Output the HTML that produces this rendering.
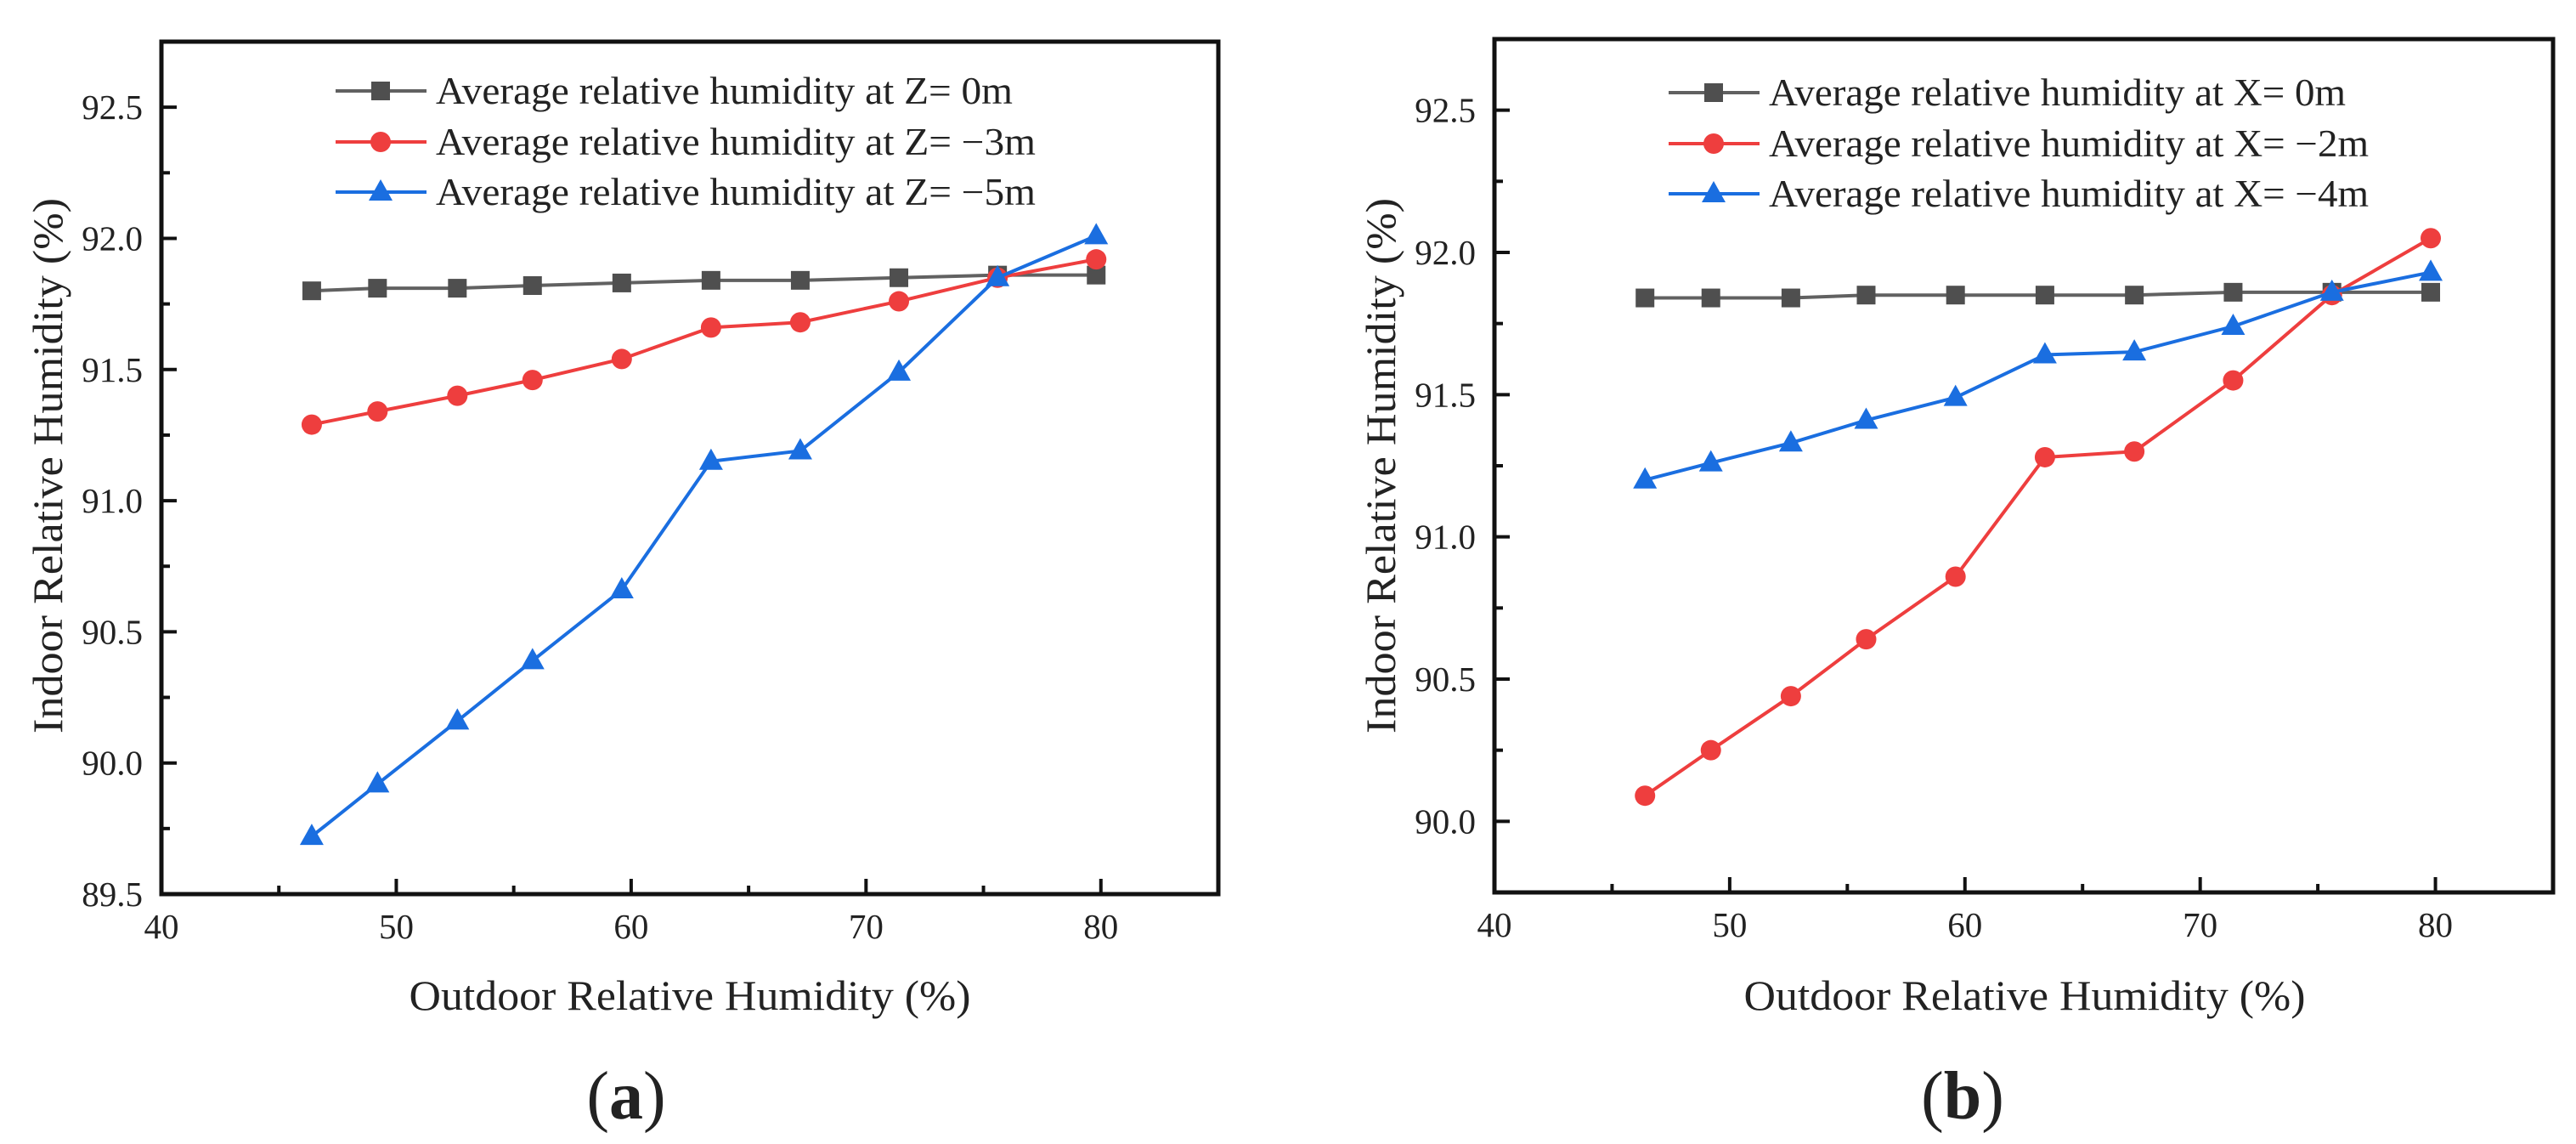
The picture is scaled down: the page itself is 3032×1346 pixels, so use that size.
<!DOCTYPE html>
<html><head><meta charset="utf-8"><style>
html,body{margin:0;padding:0;background:#fff}
svg{display:block}
text{font-family:"Liberation Serif",serif;fill:#222}
</style></head><body>
<svg id="chart" width="3032" height="1346" viewBox="0 0 3032 1346" xmlns="http://www.w3.org/2000/svg"></svg>
<script>
const xValues = [46.4, 49.2, 52.6, 55.8, 59.6, 63.4, 67.2, 71.4, 75.6, 79.8];
const aZ0 = [91.80, 91.81, 91.81, 91.82, 91.83, 91.84, 91.84, 91.85, 91.86, 91.86];
const aZm3 = [91.29, 91.34, 91.40, 91.46, 91.54, 91.66, 91.68, 91.76, 91.85, 91.92];
const aZm5 = [89.72, 89.92, 90.16, 90.39, 90.66, 91.15, 91.19, 91.49, 91.85, 92.01];
const bX0 = [91.84, 91.84, 91.84, 91.85, 91.85, 91.85, 91.85, 91.86, 91.86, 91.86];
const bXm2 = [90.09, 90.25, 90.44, 90.64, 90.86, 91.28, 91.30, 91.55, 91.85, 92.05];
const bXm4 = [91.20, 91.26, 91.33, 91.41, 91.49, 91.64, 91.65, 91.74, 91.86, 91.93];
const xTicks = [40, 50, 60, 70, 80];
const aYTicks = ["89.5", "90.0", "90.5", "91.0", "91.5", "92.0", "92.5"];
const bYTicks = ["90.0", "90.5", "91.0", "91.5", "92.0", "92.5"];
const aLegend = ["Average relative humidity at Z= 0m", "Average relative humidity at Z= \u22123m", "Average relative humidity at Z= \u22125m"];
const bLegend = ["Average relative humidity at X= 0m", "Average relative humidity at X= \u22122m", "Average relative humidity at X= \u22124m"];

const NS = "http://www.w3.org/2000/svg";
const svg = document.getElementById('chart');
const COLORS = ["#4f4f4f", "#ee3e3e", "#1a6ee0"];
const LINECOL = ["#616161", "#ee3e3e", "#1a6ee0"];
const SHAPES = ["square", "circle", "triangle"];
function mk(tag, attrs, parent) {
  const e = document.createElementNS(NS, tag);
  for (const k in attrs) e.setAttribute(k, attrs[k]);
  (parent || svg).appendChild(e);
  return e;
}
function marker(g, shape, cx, cy, col) {
  let m;
  if (shape === "square") m = mk('rect', {x: cx-11, y: cy-11, width: 22, height: 22, fill: col}, g);
  else if (shape === "circle") m = mk('circle', {cx: cx, cy: cy, r: 12, fill: col}, g);
  else m = mk('polygon', {points: `${cx},${cy-15} ${cx+14},${cy+10} ${cx-14},${cy+10}`, fill: col}, g);
  return m;
}
function panel(p) {
  const g = mk('g', {});
  
  
  const sx = v => p.x0 + (v - 40) / 45 * (p.x1 - p.x0);
  const sy = v => p.y1 - (v - p.ymin) / (p.ymax - p.ymin) * (p.y1 - p.y0);
  const frame = mk('rect', {x: p.x0, y: p.y0, width: p.x1 - p.x0, height: p.y1 - p.y0, fill: 'none', stroke: '#111', 'stroke-width': 5}, g);
  
  
  for (let v = 45; v < 85; v += 5) {
    const major = v % 10 === 0;
    const t = mk('line', {x1: sx(v), x2: sx(v), y1: p.y1, y2: p.y1 - (major ? 18 : 10), stroke: '#111', 'stroke-width': 4}, g);
    
    
  }
  xTicks.forEach(v => {
    const t = mk('text', {x: sx(v), y: p.y1 + 52, 'text-anchor': 'middle', 'font-size': 41}, g);
    t.textContent = v;
    
    
  });
  for (let v = p.ymin + 0.25; v < p.ymax - 0.01; v += 0.25) {
    const major = Math.abs((v * 2) - Math.round(v * 2)) < 0.01;
    const t = mk('line', {x1: p.x0, x2: p.x0 + (major ? 18 : 10), y1: sy(v), y2: sy(v), stroke: '#111', 'stroke-width': 4}, g);
    
    
  }
  p.yTicks.forEach(s => {
    const t = mk('text', {x: p.x0 - 22, y: sy(parseFloat(s)) + 14, 'text-anchor': 'end', 'font-size': 41}, g);
    t.textContent = s;
    
    
  });
  const xt = mk('text', {x: p.xtx, y: 1188, 'text-anchor': 'middle', 'font-size': 50, textLength: 661, lengthAdjust: 'spacingAndGlyphs'}, g);
  xt.textContent = "Outdoor Relative Humidity (%)";
  
  
  const yt = mk('text', {x: 0, y: 0, 'text-anchor': 'middle', 'font-size': 50, textLength: 630, lengthAdjust: 'spacingAndGlyphs', transform: `translate(${p.ytx + 17},548) rotate(-90)`}, g);
  yt.textContent = "Indoor Relative Humidity (%)";
  
  
  p.series.forEach((ser, i) => {
    const sg = mk('g', {}, g);
    
    
    const pts = xValues.map((x, j) => sx(x) + ',' + sy(ser[j])).join(' ');
    const pl = mk('polyline', {points: pts, fill: 'none', stroke: LINECOL[i], 'stroke-width': 4}, sg);
    
    
    xValues.forEach((x, j) => {
      const m = marker(sg, SHAPES[i], sx(x), sy(ser[j]), COLORS[i]);
      
      
    });
  });
  const lg = mk('g', {}, g);
  
  
  const rows = [p.ly, p.ly + 60, p.ly + 119];
  const lens = [679, 706, 706];
  p.legend.forEach((lab, i) => {
    const eg = mk('g', {}, lg);
    
    
    mk('line', {x1: p.lx, x2: p.lx + 107, y1: rows[i], y2: rows[i], stroke: LINECOL[i], 'stroke-width': 4}, eg);
    marker(eg, SHAPES[i], p.lx + 53, rows[i], COLORS[i]);
    const t = mk('text', {x: p.lx + 118, y: rows[i] + 15, 'font-size': 45, textLength: lens[i], lengthAdjust: 'spacingAndGlyphs'}, eg);
    t.textContent = lab;
  });
  const cap = mk('text', {x: p.capx, y: 1316, 'text-anchor': 'middle', 'font-size': 80}, g);
  
  
  const t1 = mk('tspan', {}, cap); t1.textContent = "(";
  const t2 = mk('tspan', {'font-weight': 'bold'}, cap); t2.textContent = p.cap;
  const t3 = mk('tspan', {}, cap); t3.textContent = ")";
}
panel({name: 'panel-a', x0: 190, x1: 1434, y0: 49, y1: 1052, ymin: 89.5, ymax: 92.75, yTicks: aYTicks,
  series: [aZ0, aZm3, aZm5], legend: aLegend, lx: 395, ly: 107, xtx: 812, ytx: 56, capx: 737, cap: 'a'});
panel({name: 'panel-b', x0: 1759, x1: 3005, y0: 46, y1: 1050, ymin: 89.75, ymax: 92.75, yTicks: bYTicks,
  series: [bX0, bXm2, bXm4], legend: bLegend, lx: 1964, ly: 109, xtx: 2383, ytx: 1625, capx: 2310, cap: 'b'});
</script>
</body></html>
